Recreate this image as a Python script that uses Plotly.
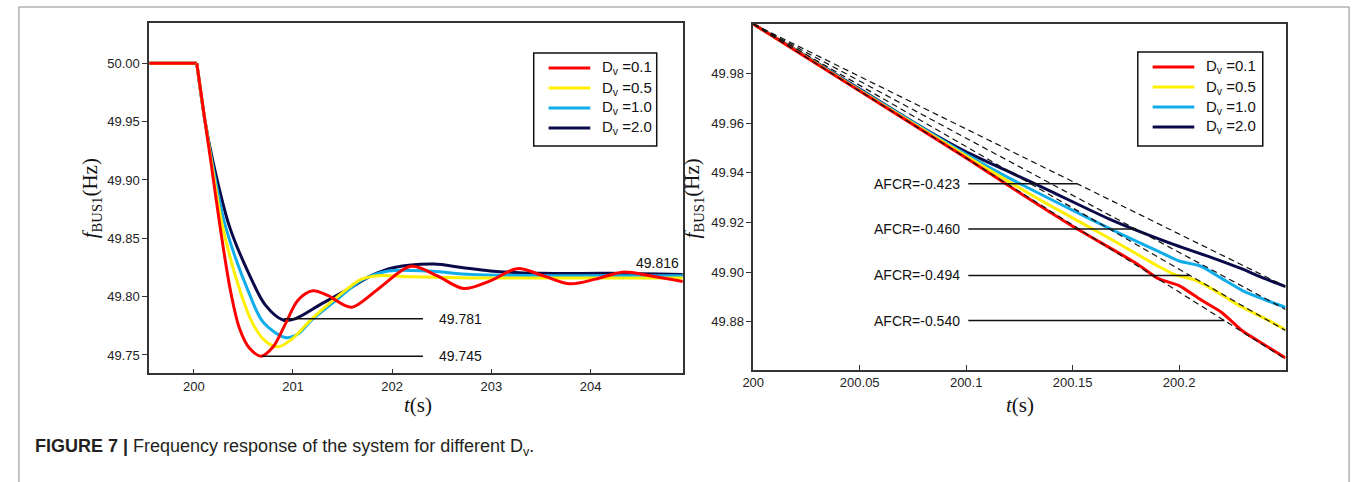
import plotly.graph_objects as go

W, H = 1356, 482

# ---------------- data: left panel (t in s, f in Hz) ----------------
series_names = ["D<sub>v</sub> =0.1", "D<sub>v</sub> =0.5", "D<sub>v</sub> =1.0", "D<sub>v</sub> =2.0"]
series_colors = ["#FF0000", "#FFEF00", "#11ADEB", "#0A0A4A"]

left_t_red = [199.55, 200.03, 200.11, 200.17, 200.27, 200.37, 200.46, 200.56, 200.68, 200.80, 200.92, 201.05,
              201.20, 201.35, 201.59, 201.85, 202.19, 202.45, 202.72, 203.00, 203.26, 203.52, 203.79, 204.05,
              204.32, 204.60, 204.93]
left_f_red = [50.000, 50.000, 49.952, 49.917, 49.857, 49.805, 49.773, 49.756, 49.749, 49.757, 49.776, 49.797,
              49.805, 49.801, 49.791, 49.806, 49.826, 49.818, 49.807, 49.814, 49.824, 49.818, 49.811, 49.815,
              49.821, 49.818, 49.813]

left_t_yel = [199.55, 200.03, 200.11, 200.175, 200.29, 200.474, 200.60, 200.72, 200.85, 200.98, 201.19, 201.45,
              201.69, 201.86, 202.20, 202.80, 203.50, 204.93]
left_f_yel = [50.000, 50.000, 49.952, 49.917, 49.860, 49.803, 49.776, 49.762, 49.757, 49.763, 49.781, 49.800,
              49.815, 49.818, 49.817, 49.816, 49.816, 49.816]

left_t_cya = [199.55, 200.03, 200.11, 200.18, 200.32, 200.557, 200.70, 200.92, 201.05, 201.19, 201.45, 201.69,
              201.96, 202.36, 202.80, 203.50, 204.93]
left_f_cya = [50.000, 50.000, 49.952, 49.917, 49.860, 49.803, 49.778, 49.765, 49.768, 49.780, 49.798, 49.814,
              49.822, 49.822, 49.819, 49.818, 49.818]

left_t_nav = [199.55, 200.03, 200.11, 200.19, 200.36, 200.57, 200.72, 200.90, 201.02, 201.29, 201.55, 201.79,
              202.02, 202.42, 202.70, 202.99, 203.50, 204.20, 204.93]
left_f_nav = [50.000, 50.000, 49.952, 49.917, 49.860, 49.817, 49.793, 49.780, 49.781, 49.794, 49.806, 49.818,
              49.825, 49.828, 49.825, 49.822, 49.820, 49.820, 49.819]

left_ts = [left_t_red, left_t_yel, left_t_cya, left_t_nav]
left_fs = [left_f_red, left_f_yel, left_f_cya, left_f_nav]

# annotated extremes (left)
nadir_labels = ["49.781", "49.745"]
nadir_levels = [49.781, 49.749]
nadir_t_start = [200.91, 200.69]
nadir_t_end = 202.31
steady_label = "49.816"

# ---------------- data: right panel ----------------
right_t_red = [200.0, 200.05, 200.10, 200.12, 200.15, 200.18, 200.19, 200.20, 200.21, 200.22, 200.23, 200.24, 200.25]
right_f_red = [50.000, 49.973, 49.946, 49.9348, 49.9185, 49.9035, 49.8975, 49.8946, 49.889, 49.8838, 49.8762,
               49.8708, 49.8654]

right_t_yel = [200.0, 200.05, 200.10, 200.12, 200.136, 200.167, 200.19, 200.198, 200.207, 200.215, 200.229,
               200.24, 200.25]
right_f_yel = [50.000, 49.9732, 49.9468, 49.9365, 49.9285, 49.9138, 49.9025, 49.899, 49.897, 49.8935, 49.8862,
               49.8815, 49.8768]

right_t_cya = [200.0, 200.05, 200.10, 200.12, 200.151, 200.17, 200.19, 200.20, 200.21, 200.22, 200.23, 200.24, 200.25]
right_f_cya = [50.000, 49.9735, 49.9475, 49.938, 49.9245, 49.9165, 49.9085, 49.9045, 49.9025, 49.8975, 49.8925,
               49.889, 49.8858]

right_t_nav = [200.0, 200.05, 200.08, 200.10, 200.12, 200.14, 200.167, 200.198, 200.215, 200.229, 200.24, 200.25]
right_f_nav = [50.000, 49.9738, 49.958, 49.9485, 49.9405, 49.9325, 49.9215, 49.911, 49.906, 49.9015, 49.8975,
               49.8942]

right_ts = [right_t_red, right_t_yel, right_t_cya, right_t_nav]
right_fs = [right_f_red, right_f_yel, right_f_cya, right_f_nav]

afcr_values = [-0.423, -0.460, -0.494, -0.540]
afcr_labels = ["AFCR=-0.423", "AFCR=-0.460", "AFCR=-0.494", "AFCR=-0.540"]
afcr_levels = [49.9356, 49.9174, 49.8987, 49.8805]
afcr_line_start = 200.101
t0, f0, t_end = 200.0, 50.0, 200.25

left_xticks = [200, 201, 202, 203, 204]
left_yticks = [49.75, 49.80, 49.85, 49.90, 49.95, 50.00]
right_xticks = [200, 200.05, 200.1, 200.15, 200.2]
right_xticklabels = ["200", "200.05", "200.1", "200.15", "200.2"]
right_yticks = [49.88, 49.90, 49.92, 49.94, 49.96, 49.98]

caption = "<b>FIGURE 7 |</b> Frequency response of the system for different D<sub>v</sub>."

# ---------------- figure ----------------
fig = go.Figure()

# pre-disturbance flat part (linear, keeps the sharp corner)
for i in [3, 2, 1, 0]:
    fig.add_trace(go.Scatter(x=left_ts[i][:2], y=left_fs[i][:2], mode="lines", showlegend=False,
                             line=dict(color=series_colors[i], width=3), xaxis="x", yaxis="y",
                             hoverinfo="skip"))
# transient part (smoothed)
for i in [3, 2, 1, 0]:
    fig.add_trace(go.Scatter(x=left_ts[i][1:], y=left_fs[i][1:], mode="lines", name=series_names[i],
                             showlegend=False,
                             line=dict(color=series_colors[i], width=3, shape="spline", smoothing=0.9),
                             xaxis="x", yaxis="y"))

for i in [3, 2, 1, 0]:
    fig.add_trace(go.Scatter(x=right_ts[i], y=right_fs[i], mode="lines", name=series_names[i],
                             showlegend=False,
                             line=dict(color=series_colors[i], width=3, shape="spline", smoothing=0.6),
                             xaxis="x2", yaxis="y2"))

# dashed AFCR lines
for a in afcr_values:
    fig.add_trace(go.Scatter(x=[t0, t_end], y=[f0, f0 + a * (t_end - t0)], mode="lines", showlegend=False,
                             line=dict(color="#111", width=1.2, dash="6px,4px"), xaxis="x2", yaxis="y2",
                             hoverinfo="skip"))

labfont = dict(family="Liberation Sans, Arial", size=14, color="#111")

# AFCR horizontal pointer lines + labels
for a, lev, lab in zip(afcr_values, afcr_levels, afcr_labels):
    t_hit = t0 + (lev - f0) / a
    fig.add_trace(go.Scatter(x=[afcr_line_start, t_hit], y=[lev, lev], mode="lines", showlegend=False,
                             line=dict(color="#111", width=1.5), xaxis="x2", yaxis="y2", hoverinfo="skip"))
    fig.add_annotation(x=afcr_line_start, y=lev, xref="x2", yref="y2", text=lab, showarrow=False,
                       xanchor="right", xshift=-6, yanchor="middle", font=labfont)

# nadir lines (left)
for lev, ts, lab in zip(nadir_levels, nadir_t_start, nadir_labels):
    fig.add_trace(go.Scatter(x=[ts, nadir_t_end], y=[lev, lev], mode="lines", showlegend=False,
                             line=dict(color="#111", width=1.5), xaxis="x", yaxis="y", hoverinfo="skip"))
    fig.add_annotation(x=nadir_t_end, y=lev, xref="x", yref="y", text=lab, showarrow=False,
                       xanchor="left", xshift=14, yanchor="middle", font=labfont)
fig.add_annotation(x=204.93, y=49.829, xref="x", yref="y", text=steady_label, showarrow=False,
                   xanchor="right", xshift=-2, yanchor="middle", font=labfont)

tickfont = dict(family="Liberation Sans, Arial", size=13, color="#222")
axis_common = dict(showgrid=False, zeroline=False, showline=True, mirror=True, linecolor="#333",
                   linewidth=1.5, tickfont=tickfont, tickcolor="#333", ticklen=5, tickwidth=1.2)

L = [139.3, 677.3]
R = [748.3, 1285.0]
fig.update_layout(
    width=W, height=H, margin=dict(l=0, r=0, t=0, b=0),
    paper_bgcolor="white", plot_bgcolor="white", showlegend=False,
    xaxis=dict(domain=[L[0] / W, L[1] / W], range=[199.55, 204.93], tickvals=left_xticks,
               ticks="inside", anchor="y", **axis_common),
    yaxis=dict(domain=[1 - 373.3 / H, 1 - 23.3 / H], range=[49.7343, 50.0343], tickvals=left_yticks,
               tickformat=".2f", ticks="outside", anchor="x", **axis_common),
    xaxis2=dict(domain=[R[0] / W, R[1] / W], range=[200.0, 200.25], tickvals=right_xticks,
                ticktext=right_xticklabels, ticks="inside", anchor="y2", **axis_common),
    yaxis2=dict(domain=[1 - 370.0 / H, 1 - 24.0 / H], range=[49.8606, 50.0], tickvals=right_yticks,
                tickformat=".2f", ticks="outside", anchor="x2", **axis_common),
)

# legends (drawn as boxed keys, in pixel positions)
def px(x):
    return x / W

def py(y):
    return 1 - y / H

legend_boxes = [(527, 53, 651, 146), (1136, 52, 1262, 146)]
for (bx0, by0, bx1, by1) in legend_boxes:
    fig.add_shape(type="rect", xref="paper", yref="paper", x0=px(bx0), x1=px(bx1), y0=py(by1), y1=py(by0),
                  line=dict(color="#111", width=1.5), fillcolor="white", layer="above")
    for k in range(4):
        yy = by0 + 15 + 20 * k
        fig.add_shape(type="line", xref="paper", yref="paper", x0=px(bx0 + 15), x1=px(bx0 + 57),
                      y0=py(yy), y1=py(yy), line=dict(color=series_colors[k], width=3), layer="above")
        fig.add_annotation(x=px(bx0 + 67), y=py(yy), xref="paper", yref="paper", text=series_names[k],
                           showarrow=False, xanchor="left", yanchor="middle",
                           font=dict(family="Liberation Sans, Arial", size=15, color="#111"))

serif = "Liberation Serif, Times New Roman, serif"
# y titles
for xpix in [81, 688]:
    fig.add_annotation(x=xpix / W, y=1 - 198 / H, xref="paper", yref="paper",
                       text="<i>f</i><sub>BUS1</sub>(Hz)", textangle=-90, showarrow=False,
                       xanchor="center", yanchor="middle", font=dict(family=serif, size=21, color="#111"))
# x titles
for xpix in [410, 1017]:
    fig.add_annotation(x=xpix / W, y=1 - 405 / H, xref="paper", yref="paper",
                       text="<i>t</i>(s)", showarrow=False, xanchor="center", yanchor="middle",
                       font=dict(family=serif, size=21, color="#111"))

# caption
fig.add_annotation(x=22 / W, y=1 - 447 / H, xref="paper", yref="paper", text=caption, showarrow=False,
                   xanchor="left", yanchor="middle",
                   font=dict(family="Liberation Sans, Arial", size=18, color="#231F20"))

# outer frame
fig.add_shape(type="rect", xref="paper", yref="paper", x0=8 / W, x1=1349 / W, y0=-0.05, y1=1 - 7 / H,
              line=dict(color="#8a8a8a", width=1), fillcolor="rgba(0,0,0,0)", layer="below")

fig.write_html("out.html")
